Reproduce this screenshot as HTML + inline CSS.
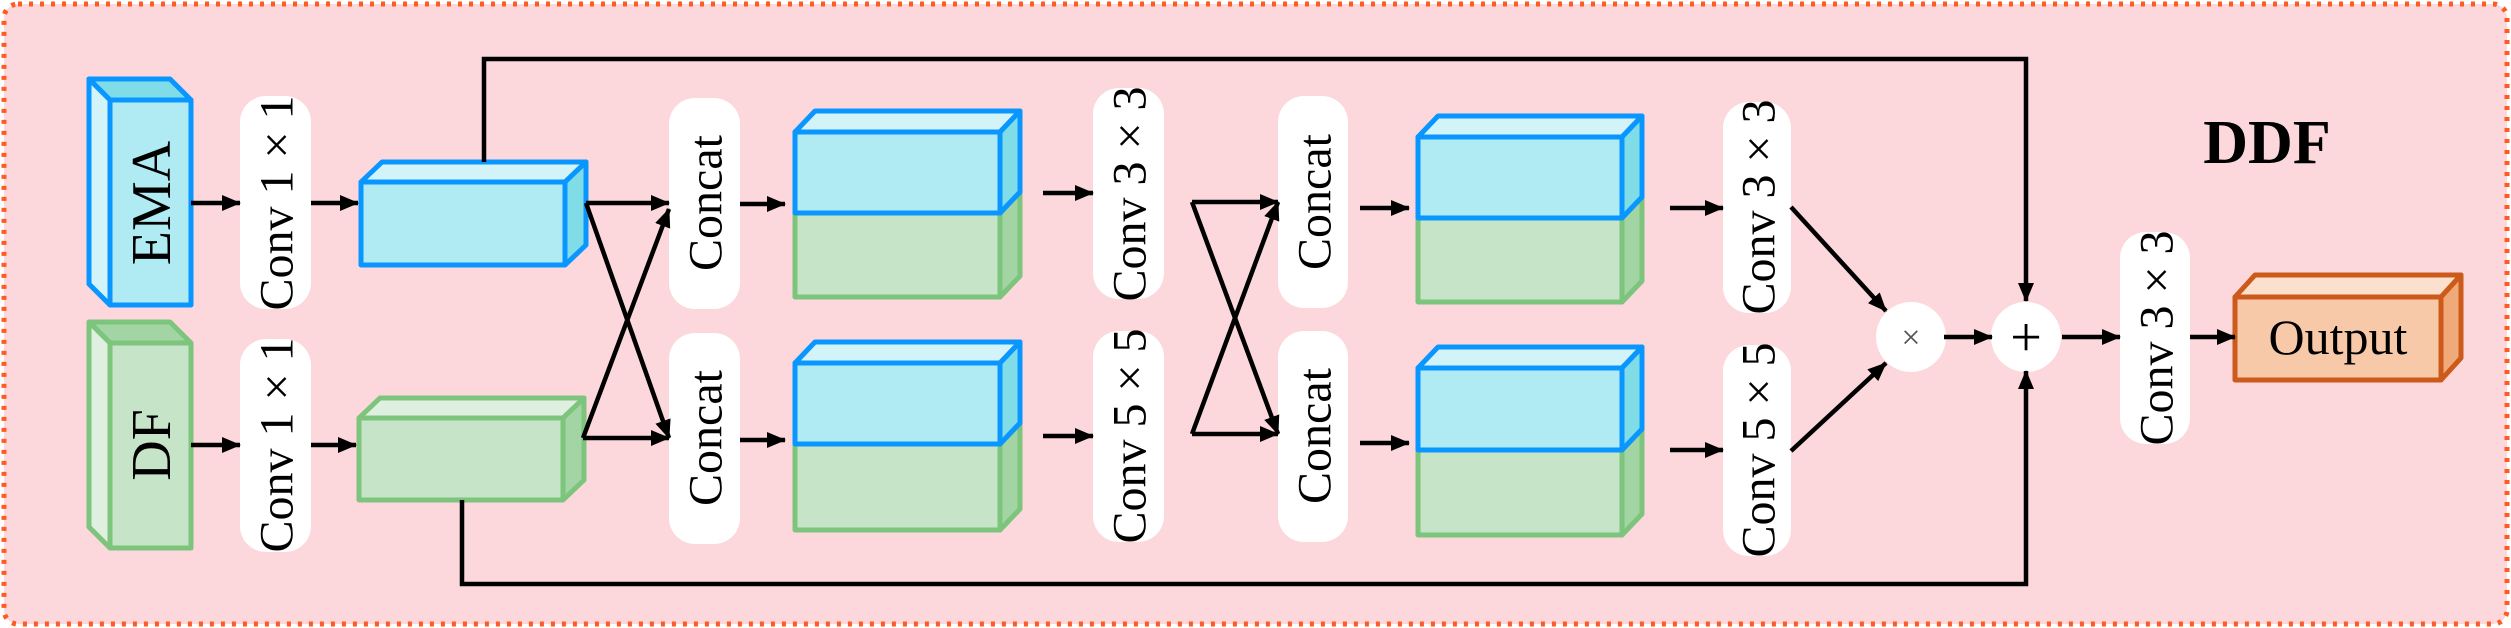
<!DOCTYPE html>
<html><head><meta charset="utf-8"><style>
html,body{margin:0;padding:0;background:#fff;}
svg{display:block;}
text{font-family:"Liberation Serif",serif;fill:#000;}
</style></head><body>
<svg width="2511" height="628" viewBox="0 0 2511 628">
<defs>
<marker id="ah" markerUnits="userSpaceOnUse" markerWidth="20" markerHeight="18" refX="18" refY="9" orient="auto"><path d="M0,1 L19,9 L0,17 Z" fill="#000"/></marker>
</defs>
<rect x="4" y="4" width="2503" height="620" rx="14" fill="#fcd8dc" stroke="#ff5a1f" stroke-width="5" stroke-dasharray="4 7"/>
<text x="2267" y="163" font-size="62" font-weight="bold" text-anchor="middle">DDF</text>

<g stroke="#0a96ff" stroke-width="5" stroke-linejoin="round">
<polygon points="110,100 89,79 170,79 191,100" fill="#80dde8"/>
<polygon points="110,100 89,79 89,284 110,305" fill="#d2f4f8"/>
<rect x="110" y="100" width="81" height="205" fill="#b0eaf2"/>
</g>
<text transform="translate(152,203) rotate(-90)" font-size="56" text-anchor="middle" dominant-baseline="central">EMA</text>
<g stroke="#7dc47d" stroke-width="5" stroke-linejoin="round">
<polygon points="110,343 89,322 170,322 191,343" fill="#a3d4a3"/>
<polygon points="110,343 89,322 89,527 110,548" fill="#e0f0e0"/>
<rect x="110" y="343" width="81" height="205" fill="#c6e5c8"/>
</g>
<text transform="translate(152,445) rotate(-90)" font-size="56" text-anchor="middle" dominant-baseline="central">DF</text>

<g stroke="#0a96ff" stroke-width="5" stroke-linejoin="round">
<polygon points="361,182 382,162 586,162 565,182" fill="#d2f4f8"/>
<polygon points="565,182 586,162 586,245 565,265" fill="#80dde8"/>
<rect x="361" y="182" width="204" height="83" fill="#b0eaf2"/>
</g>
<g stroke="#7dc47d" stroke-width="5" stroke-linejoin="round">
<polygon points="359,418 380,398 584,398 563,418" fill="#e0f0e0"/>
<polygon points="563,418 584,398 584,480 563,500" fill="#a3d4a3"/>
<rect x="359" y="418" width="204" height="82" fill="#c6e5c8"/>
</g>

<g stroke-width="5" stroke-linejoin="round">
<polygon points="1000,213 1020,192 1020,276 1000,297" fill="#a3d4a3" stroke="#7dc47d"/>
<rect x="795" y="213" width="205" height="84" fill="#c6e5c8" stroke="#7dc47d"/>
<polygon points="795,132 815,111 1020,111 1000,132" fill="#d2f4f8" stroke="#0a96ff"/>
<polygon points="1000,132 1020,111 1020,192 1000,213" fill="#80dde8" stroke="#0a96ff"/>
<rect x="795" y="132" width="205" height="81" fill="#b0eaf2" stroke="#0a96ff"/>
</g>
<g stroke-width="5" stroke-linejoin="round">
<polygon points="1000,444 1020,423 1020,509 1000,530" fill="#a3d4a3" stroke="#7dc47d"/>
<rect x="795" y="444" width="205" height="86" fill="#c6e5c8" stroke="#7dc47d"/>
<polygon points="795,363 815,342 1020,342 1000,363" fill="#d2f4f8" stroke="#0a96ff"/>
<polygon points="1000,363 1020,342 1020,423 1000,444" fill="#80dde8" stroke="#0a96ff"/>
<rect x="795" y="363" width="205" height="81" fill="#b0eaf2" stroke="#0a96ff"/>
</g>
<g stroke-width="5" stroke-linejoin="round">
<polygon points="1622,218 1642,197 1642,281 1622,302" fill="#a3d4a3" stroke="#7dc47d"/>
<rect x="1418" y="218" width="204" height="84" fill="#c6e5c8" stroke="#7dc47d"/>
<polygon points="1418,137 1438,116 1642,116 1622,137" fill="#d2f4f8" stroke="#0a96ff"/>
<polygon points="1622,137 1642,116 1642,197 1622,218" fill="#80dde8" stroke="#0a96ff"/>
<rect x="1418" y="137" width="204" height="81" fill="#b0eaf2" stroke="#0a96ff"/>
</g>
<g stroke-width="5" stroke-linejoin="round">
<polygon points="1622,450 1642,429 1642,514 1622,535" fill="#a3d4a3" stroke="#7dc47d"/>
<rect x="1418" y="450" width="204" height="85" fill="#c6e5c8" stroke="#7dc47d"/>
<polygon points="1418,368 1438,347 1642,347 1622,368" fill="#d2f4f8" stroke="#0a96ff"/>
<polygon points="1622,368 1642,347 1642,429 1622,450" fill="#80dde8" stroke="#0a96ff"/>
<rect x="1418" y="368" width="204" height="82" fill="#b0eaf2" stroke="#0a96ff"/>
</g>

<g stroke="#cc5a1a" stroke-width="5" stroke-linejoin="round">
<polygon points="2235,297 2255,275 2461,275 2441,297" fill="#fbe0cd"/>
<polygon points="2441,297 2461,275 2461,358 2441,380" fill="#f0a978"/>
<rect x="2235" y="297" width="206" height="83" fill="#f7c9a9"/>
</g>
<text x="2338" y="337" font-size="50" text-anchor="middle" dominant-baseline="central">Output</text>

<g fill="#fff">
<rect x="240" y="96" width="71" height="213" rx="26"/>
<rect x="240" y="339" width="71" height="213" rx="26"/>
<rect x="669" y="98" width="71" height="211" rx="26"/>
<rect x="669" y="333" width="71" height="211" rx="26"/>
<rect x="1093" y="88" width="71" height="211" rx="26"/>
<rect x="1093" y="331" width="71" height="211" rx="26"/>
<rect x="1278" y="96" width="70" height="212" rx="26"/>
<rect x="1278" y="331" width="70" height="211" rx="26"/>
<rect x="1723" y="102" width="68" height="211" rx="26"/>
<rect x="1723" y="345" width="68" height="211" rx="26"/>
<rect x="2120" y="232" width="70" height="212" rx="26"/>
<circle cx="1911" cy="337" r="35"/>
<circle cx="2026" cy="337" r="35"/>
</g>
<g font-size="48" text-anchor="middle" dominant-baseline="central">
<text transform="translate(277,203) rotate(-90)">Conv 1 × 1</text>
<text transform="translate(277,445) rotate(-90)">Conv 1 × 1</text>
<text transform="translate(706,203) rotate(-90)">Concat</text>
<text transform="translate(706,438) rotate(-90)">Concat</text>
<text transform="translate(1130,194) rotate(-90)">Conv 3 × 3</text>
<text transform="translate(1130,436) rotate(-90)">Conv 5 × 5</text>
<text transform="translate(1315,202) rotate(-90)">Concat</text>
<text transform="translate(1315,436) rotate(-90)">Concat</text>
<text transform="translate(1759,207) rotate(-90)">Conv 3 × 3</text>
<text transform="translate(1759,450) rotate(-90)">Conv 5 × 5</text>
<text transform="translate(2157,338) rotate(-90)">Conv 3 × 3</text>
</g>
<text x="1911" y="338" font-size="34" text-anchor="middle" dominant-baseline="central" style="fill:#555">×</text>
<text x="2026" y="338" font-size="56" text-anchor="middle" dominant-baseline="central">+</text>

<g stroke="#000" stroke-width="4.5" fill="none" marker-end="url(#ah)">
<line x1="191" y1="203" x2="240" y2="203"/>
<line x1="191" y1="445" x2="240" y2="445"/>
<line x1="311" y1="203" x2="358" y2="203"/>
<line x1="311" y1="445" x2="356" y2="445"/>
<polyline points="484,162 484,59 2026,59 2026,301"/>
<polyline points="462,500 462,584 2026,584 2026,371"/>
<line x1="586" y1="203" x2="669" y2="203"/>
<line x1="586" y1="203" x2="669" y2="438"/>
<line x1="583" y1="438" x2="669" y2="438"/>
<line x1="583" y1="438" x2="669" y2="209"/>
<line x1="740" y1="204" x2="785" y2="204"/>
<line x1="740" y1="440" x2="785" y2="440"/>
<line x1="1043" y1="193" x2="1093" y2="193"/>
<line x1="1043" y1="436" x2="1093" y2="436"/>
<line x1="1192" y1="202" x2="1278" y2="202"/>
<line x1="1192" y1="202" x2="1278" y2="434"/>
<line x1="1192" y1="434" x2="1278" y2="434"/>
<line x1="1192" y1="434" x2="1278" y2="202"/>
<line x1="1360" y1="208" x2="1409" y2="208"/>
<line x1="1360" y1="443" x2="1409" y2="443"/>
<line x1="1670" y1="208" x2="1723" y2="208"/>
<line x1="1670" y1="450" x2="1723" y2="450"/>
<line x1="1791" y1="207" x2="1886" y2="311"/>
<line x1="1791" y1="451" x2="1886" y2="363"/>
<line x1="1944" y1="337" x2="1992" y2="337"/>
<line x1="2062" y1="337" x2="2120" y2="337"/>
<line x1="2190" y1="337" x2="2235" y2="337"/>
</g>
</svg>
</body></html>
